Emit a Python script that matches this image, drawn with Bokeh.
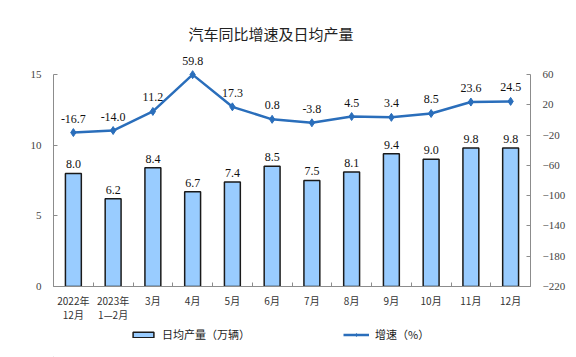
from bokeh.plotting import figure
from bokeh.layouts import column
from bokeh.models import (Range1d, LinearAxis, FixedTicker, ColumnDataSource,
                          LabelSet, Legend, LegendItem)
from bokeh.embed import file_html
from bokeh.resources import INLINE

categories = ["2022年\n12月", "2023年\n1—2月", "3月", "4月", "5月", "6月",
              "7月", "8月", "9月", "10月", "11月", "12月"]
daily_output = [8.0, 6.2, 8.4, 6.7, 7.4, 8.5, 7.5, 8.1, 9.4, 9.0, 9.8, 9.8]
growth = [-16.7, -14.0, 11.2, 59.8, 17.3, 0.8, -3.8, 4.5, 3.4, 8.5, 23.6, 24.5]
left_ticks = [0, 5, 10, 15]
right_ticks = [60, 20, -20, -60, -100, -140, -180, -220]
series_names = ["日均产量（万辆）", "增速（%）"]

BAR_FILL = "#99CCFF"
BAR_LINE = "#1a1a1a"
LINE_COLOR = "#2A6EBB"

xs = list(range(len(categories)))
src = ColumnDataSource(dict(
    x=xs, bar=daily_output, g=growth,
    bar_lbl=[f"{v:.1f}" for v in daily_output],
    g_lbl=[f"{v:.1f}" for v in growth],
))

FRAME_TOP = 45
MAIN_H = 324
p = figure(width=576, height=MAIN_H, output_backend="svg", toolbar_location=None,
           x_range=Range1d(-0.5, 11.5), y_range=Range1d(0, 17.05),
           min_border_left=53, min_border_right=46, min_border_top=FRAME_TOP,
           min_border_bottom=36)
p.outline_line_color = None
p.xgrid.grid_line_color = None
p.ygrid.grid_line_color = None
p.extra_y_ranges = {"g": Range1d(-220, 98.3)}

p.title.text = "汽车同比增速及日均产量"
p.title.text_font = "Noto Sans CJK SC"
p.title.text_font_size = "15px"
p.title.text_font_style = "normal"
p.title.text_color = "#222222"
p.title.align = "left"
p.title.offset = 135
p.title.standoff = 3

axis_gray = "#8c8c8c"

# left axis
ya = p.yaxis[0]
ya.ticker = FixedTicker(ticks=left_ticks)
ya.bounds = (0, 15)
ya.axis_line_color = axis_gray
ya.major_tick_line_color = axis_gray
ya.major_tick_in = 4
ya.major_tick_out = 0
ya.minor_tick_line_color = None
ya.major_label_text_font = "Liberation Serif"
ya.major_label_text_font_size = "11px"
ya.major_label_standoff = 12

# right axis
ra = LinearAxis(y_range_name="g", ticker=FixedTicker(ticks=right_ticks), bounds=(-220, 60))
ra.axis_line_color = axis_gray
ra.major_tick_line_color = axis_gray
ra.major_tick_in = 4
ra.major_tick_out = 0
ra.minor_tick_line_color = None
ra.major_label_text_font = "Liberation Serif"
ra.major_label_text_font_size = "11px"
ra.major_label_standoff = 12
p.add_layout(ra, "right")

# bottom axis
xa = p.xaxis[0]
xa.ticker = FixedTicker(ticks=xs, minor_ticks=[i - 0.5 for i in range(len(categories) + 1)])
xa.major_label_overrides = {i: c for i, c in enumerate(categories)}
xa.axis_line_color = axis_gray
xa.major_tick_line_color = None
xa.minor_tick_line_color = axis_gray
xa.minor_tick_in = 4
xa.minor_tick_out = 0
xa.major_label_text_font = "Noto Sans CJK SC"
xa.major_label_text_font_size = "10px"
xa.major_label_text_line_height = 0.95
xa.major_label_text_color = "#333333"
xa.major_label_standoff = 0

p.vbar(x="x", top="bar", width=0.4, source=src, fill_color=BAR_FILL,
       line_color=BAR_LINE, line_width=1.5)
p.line(x="x", y="g", source=src, y_range_name="g", line_color=LINE_COLOR, line_width=2.5)
p.scatter(x="x", y="g", source=src, y_range_name="g", marker="diamond", size=8,
          fill_color=LINE_COLOR, line_color=LINE_COLOR)

bl = LabelSet(x="x", y="bar", text="bar_lbl", source=src, text_align="center",
              text_baseline="bottom", y_offset=5, text_font="Liberation Sans",
              text_font_size="12px", text_color="#111111")
gl = LabelSet(x="x", y="g", text="g_lbl", source=src, y_range_name="g", text_align="center",
              text_baseline="bottom", y_offset=10, text_font="Liberation Sans",
              text_font_size="12px", text_color="#111111")
p.add_layout(bl)
p.add_layout(gl)

# legend strip (its frame is aligned with the main frame: x offset relative to x=53)
LEG_H = 357 - MAIN_H
q = figure(width=576, height=LEG_H, output_backend="svg", toolbar_location=None,
           x_range=Range1d(1000, 1001), y_range=Range1d(1000, 1001),
           min_border=0, x_axis_type=None, y_axis_type=None)
q.outline_line_color = None
q.xgrid.grid_line_color = None
q.ygrid.grid_line_color = None
lb = q.vbar(x=[xs[0]], top=[daily_output[0]], width=0.4, fill_color=BAR_FILL,
            line_color=BAR_LINE, line_width=1.5)
ll = q.line(x=xs[:2], y=growth[:2], line_color=LINE_COLOR, line_width=2.5)
lm = q.scatter(x=[xs[0]], y=[growth[0]], marker="diamond", size=7,
               fill_color=LINE_COLOR, line_color=LINE_COLOR)
legend = Legend(items=[LegendItem(label=series_names[0], renderers=[lb]),
                       LegendItem(label=series_names[1], renderers=[ll, lm])],
                orientation="horizontal", location=(77, 15),
                glyph_width=26, glyph_height=7, label_standoff=6, spacing=93,
                padding=0, margin=0, border_line_color=None,
                background_fill_alpha=0,
                label_text_font="Noto Sans CJK SC", label_text_font_size="11px",
                label_text_color="#222222", label_height=14)
q.add_layout(legend, "center")

layout = column(p, q, spacing=0)
open("out.html", "w").write(file_html(layout, INLINE))
